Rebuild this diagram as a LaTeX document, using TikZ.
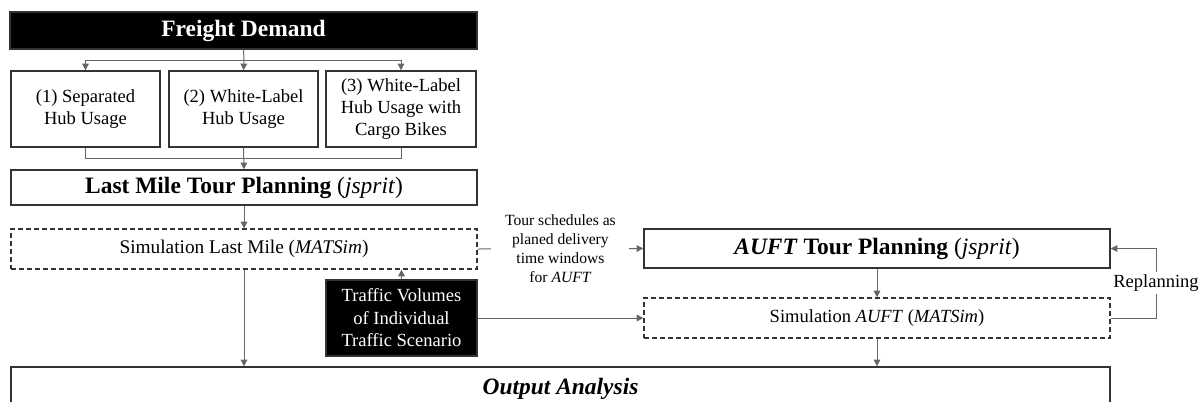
\documentclass[tikz,border=0pt]{standalone}
\usepackage{fontspec}
\setmainfont{Liberation Serif}
\usetikzlibrary{arrows.meta}

\tikzset{
    rect/.style n args={2}{minimum width=#1*0.75pt, minimum height=#2*0.75pt},
    box/.style={draw=black!80, line width=1.1pt, inner sep=0pt, align=center, font=\fontsize{13.9}{16.3}\selectfont},
    headfont/.style={font=\fontsize{17.6}{20}\selectfont\bfseries},
    darkbox/.style={box, fill=black, text=white},
    simbox/.style={box, line width=0.9pt, dash pattern=on 3.75pt off 2.25pt},
    link/.style={draw=black!60, line width=0.75pt},
    flow/.style={link, -{Triangle[width=5pt,length=5pt]}},
}

\begin{document}
\begin{tikzpicture}[x=0.75pt,y=0.75pt,yscale=-1,xscale=1]
    \clip (0,0) rectangle (1203,401);
    % demand and hub scenarios
    \node [darkbox, headfont, rect={467}{37}] (freight) at (243.5,30.5) {Freight Demand};
    \node [box, rect={149}{76}] (separated) at (85.5,109) {(1) Separated\\Hub Usage};
    \node [box, rect={149}{76}] (whitelabel) at (243.5,109) {(2) White-Label\\Hub Usage};
    \node [box, rect={150}{76}] (cargobikes) at (401,109) {(3) White-Label\\Hub Usage with\\Cargo Bikes};
    \node [box, headfont, rect={466}{35}] (lastmile) at (244,187.5) {Last Mile Tour Planning \normalfont(\textit{jsprit})};
    \node [simbox, rect={466}{40}, font=\fontsize{14.5}{17}\selectfont] (simlastmile) at (244,249) {Simulation Last Mile (\textit{MATSim})};
    \node [darkbox, rect={151}{76}, font=\fontsize{13.9}{16.9}\selectfont] (traffic) at (401.5,318) {Traffic Volumes\\of Individual\\Traffic Scenario};
    % AUFT side
    \node [box, headfont, rect={466}{39}] (auft) at (877,248.5) {\textit{AUFT} Tour Planning \normalfont(\textit{jsprit})};
    \node [simbox, rect={466}{40}] (simauft) at (877,318) {Simulation \textit{AUFT} (\textit{MATSim})};
    \node [box, rect={1099}{44}, font=\fontsize{17.6}{20}\selectfont\bfseries\itshape] (output) at (560.5,389) {Output Analysis};

    \coordinate (split) at (244,60);
    \coordinate (merge) at (244,158);
    \coordinate (replan) at (1156,318);

    % connectors
    \draw [link] (freight.south) -- (split);
    \draw [flow] (split) -| (separated.north);
    \draw [flow] (split) -- (whitelabel.north);
    \draw [flow] (split) -| (cargobikes.north);
    \draw [link] (separated.south) |- (merge);
    \draw [link] (cargobikes.south) |- (merge);
    \draw [flow] (whitelabel.south) -- (lastmile.north);
    \draw [flow] (lastmile.south) -- (simlastmile.north);
    \draw [flow] (simlastmile.south) -- (simlastmile.south |- output.north);
    \draw [flow] (traffic.north) -- (traffic.north |- simlastmile.south);
    \draw [flow] (traffic.east) -- (simauft.west);
    \draw [flow] (simlastmile.east) -- (auft.west)
        node [midway, fill=white, inner sep=2pt, minimum width=103.5pt, align=center, font=\fontsize{11.7}{14.3}\selectfont] (schedules) {Tour schedules as\\planed delivery\\time windows\\for \textit{AUFT}};
    \draw [flow] (auft.south) -- (simauft.north);
    \draw [flow] (simauft.south) -- (simauft.south |- output.north);
    \draw [flow] (simauft.east) -- (replan) |- (auft.east)
        node [pos=0.25, fill=white, inner sep=2pt, font=\fontsize{13.9}{16}\selectfont] (replanning) {Replanning};
\end{tikzpicture}
\end{document}
